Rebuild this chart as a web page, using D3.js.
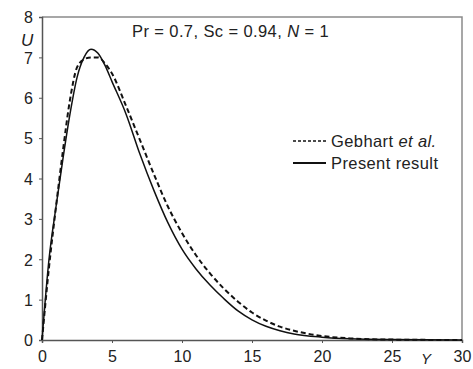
<!DOCTYPE html>
<html>
<head>
<meta charset="utf-8">
<script src="https://cdn.jsdelivr.net/npm/d3@7"></script>
<style>
  html, body { margin: 0; padding: 0; background: #fff; }
  svg { display: block; font-family: "Liberation Sans", Arial, sans-serif; }
</style>
</head>
<body>
<svg id="chart" width="473" height="369"></svg>
<script>
// velocity profile U(Y)
const xTicks = [0, 5, 10, 15, 20, 25, 30];
const yTicks = [0, 1, 2, 3, 4, 5, 6, 7, 8];

const gebhartY = [0, 0.5, 1, 1.5, 2, 2.5, 3, 3.5, 4, 4.5, 5, 6, 7, 8, 9, 10, 11, 12, 13, 14, 15, 16, 17, 18, 20, 22, 25, 30];
const gebhartU = [0, 1.8, 3.3, 4.7, 5.95, 6.75, 6.95, 7.0, 7.0, 6.85, 6.6, 5.8, 4.95, 4.1, 3.3, 2.65, 2.1, 1.65, 1.27, 0.95, 0.68, 0.48, 0.33, 0.23, 0.1, 0.04, 0.01, 0];

const presentY = [0, 0.5, 1, 1.5, 2, 2.5, 3, 3.5, 4, 4.5, 5, 6, 7, 8, 9, 10, 11, 12, 13, 14, 15, 16, 17, 18, 20, 22, 25, 30];
const presentU = [0, 2.0, 3.3, 4.5, 5.6, 6.5, 7.0, 7.2, 7.1, 6.8, 6.4, 5.6, 4.6, 3.7, 2.9, 2.25, 1.76, 1.36, 1.02, 0.72, 0.5, 0.34, 0.23, 0.15, 0.07, 0.03, 0.01, 0];

const M = { left: 42, right: 11, top: 17, bottom: 29 };
const W = 473, H = 369;

const svg = d3.select('#chart');
const x = d3.scaleLinear().domain([0, 30]).range([M.left, W - M.right]);
const y = d3.scaleLinear().domain([0, 8]).range([H - M.bottom, M.top]);

// frame (top + right)
svg.append('path')
  .attr('d', `M${x(0)},${y(8)}H${x(30)}V${y(0)}`)
  .attr('fill', 'none')
  .attr('stroke', '#8a8a8a')
  .attr('stroke-width', 1.5);

// axes
const xAxis = svg.append('g')
  .attr('transform', `translate(0,${y(0)})`)
  .call(d3.axisBottom(x).tickValues(xTicks).tickSize(3).tickPadding(8));
const yAxis = svg.append('g')
  .attr('transform', `translate(${x(0)},0)`)
  .call(d3.axisLeft(y).tickValues(yTicks).tickSize(3).tickPadding(6));

[xAxis, yAxis].forEach((g) => {
  g.select('.domain').attr('stroke', '#555').attr('stroke-width', 1.5);
  g.selectAll('.tick line').attr('stroke', '#555');
  g.selectAll('.tick text')
    .attr('font-family', '"Liberation Sans", Arial, sans-serif')
    .attr('font-size', 16)
    .attr('fill', '#222');
});
yAxis.selectAll('.tick text').attr('dy', '0.36em');

// curves
const line = d3.line()
  .x((d) => x(d[0]))
  .y((d) => y(d[1]))
  .curve(d3.curveMonotoneX);

svg.append('path')
  .datum(gebhartY.map((v, i) => [v, gebhartU[i]]))
  .attr('d', line)
  .attr('fill', 'none')
  .attr('stroke', '#111')
  .attr('stroke-width', 2)
  .attr('stroke-dasharray', '5,3');

svg.append('path')
  .datum(presentY.map((v, i) => [v, presentU[i]]))
  .attr('d', line)
  .attr('fill', 'none')
  .attr('stroke', '#111')
  .attr('stroke-width', 1.5);

// annotation
const ann = svg.append('text')
  .attr('x', 132).attr('y', 37)
  .attr('font-size', 16.5).attr('letter-spacing', 0.4).attr('fill', '#222');
ann.append('tspan').text('Pr = 0.7, Sc = 0.94, ');
ann.append('tspan').attr('font-style', 'italic').text('N');
ann.append('tspan').text(' = 1');

// axis labels
svg.append('text').attr('x', 21).attr('y', 46)
  .attr('font-size', 17).attr('font-style', 'italic').attr('fill', '#222').text('U');
svg.append('text').attr('x', 421).attr('y', 364)
  .attr('font-size', 15).attr('font-style', 'italic').attr('fill', '#222').text('Y');

// legend
const lg = svg.append('g').attr('font-size', 16.5).attr('letter-spacing', 0.4).attr('fill', '#222');
lg.append('line').attr('x1', 293).attr('x2', 326).attr('y1', 141).attr('y2', 141)
  .attr('stroke', '#111').attr('stroke-width', 1.5).attr('stroke-dasharray', '3,2');
const t1 = lg.append('text').attr('x', 331).attr('y', 147);
t1.append('tspan').text('Gebhart ');
t1.append('tspan').attr('font-style', 'italic').text('et al.');
lg.append('line').attr('x1', 293).attr('x2', 326).attr('y1', 163).attr('y2', 163)
  .attr('stroke', '#111').attr('stroke-width', 2);
lg.append('text').attr('x', 331).attr('y', 169).text('Present result');
</script>
</body>
</html>
